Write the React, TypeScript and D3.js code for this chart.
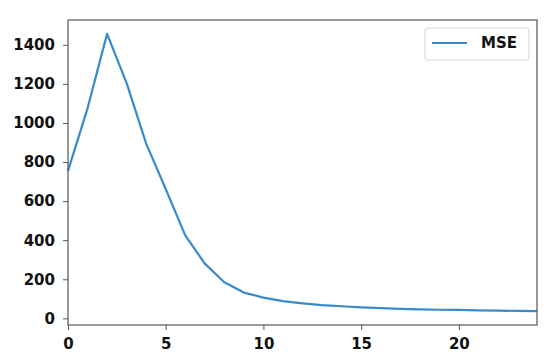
import { useEffect, useRef } from 'react'
import * as d3 from 'd3'

const W = 550
const H = 363
const MARGIN = { top: 20, right: 13, bottom: 38, left: 68 }

// epoch index and MSE values
const EPOCHS = [0, 1, 2, 3, 4, 5, 6, 7, 8, 9, 10, 11, 12, 13, 14, 15, 16, 17, 18, 19, 20, 21, 22, 23, 24]
const MSE = [755, 1075, 1456, 1204, 894, 662, 425, 280, 185, 132, 106, 88, 77, 68, 62, 56, 52, 49, 46, 44, 43, 41, 40, 38, 37]
const X_TICKS = [0, 5, 10, 15, 20]
const Y_TICKS = [0, 200, 400, 600, 800, 1000, 1200, 1400]
const SERIES_LABEL = 'MSE'

const LINE_COLOR = '#3a8ac8'
const AXIS_COLOR = '#555'
const FONT = 'DejaVu Sans, sans-serif'

export default function App() {
  const svgRef = useRef<SVGSVGElement>(null)

  useEffect(() => {
    const svg = d3.select(svgRef.current)
    svg.selectAll('*').remove()

    const innerW = W - MARGIN.left - MARGIN.right
    const innerH = H - MARGIN.top - MARGIN.bottom

    const x = d3.scaleLinear().domain([0, 24]).range([0, innerW])

    // matplotlib-style 5% padding on y
    const lo = d3.min(MSE) as number
    const hi = d3.max(MSE) as number
    const pad = (hi - lo) * 0.05
    const y = d3.scaleLinear().domain([lo - pad, hi + pad]).range([innerH, 0])

    const g = svg.append('g').attr('transform', `translate(${MARGIN.left},${MARGIN.top})`)

    // --- line ---
    const line = d3.line<number>()
      .x((_, i) => x(EPOCHS[i]))
      .y(d => y(d))

    g.append('path')
      .datum(MSE)
      .attr('fill', 'none')
      .attr('stroke', LINE_COLOR)
      .attr('stroke-width', 2.2)
      .attr('stroke-linejoin', 'round')
      .attr('d', line)

    // --- axes ---
    const styleAxis = (sel: d3.Selection<SVGGElement, unknown, null, undefined>) => {
      sel.select('.domain').remove()
      sel.selectAll('line').attr('stroke', AXIS_COLOR).attr('stroke-width', 1)
      sel.selectAll('text')
        .attr('fill', '#111')
        .attr('font-size', 15)
        .attr('font-weight', 'bold')
        .attr('font-family', FONT)
    }

    g.append('g')
      .attr('transform', `translate(0,${innerH})`)
      .call(d3.axisBottom(x).tickValues(X_TICKS).tickSize(5).tickPadding(8).tickFormat(d3.format('d')))
      .call(styleAxis)

    g.append('g')
      .call(d3.axisLeft(y).tickValues(Y_TICKS).tickSize(5).tickPadding(8).tickFormat(d3.format('d')))
      .call(styleAxis)

    // spines
    g.append('rect')
      .attr('x', 0).attr('y', 0)
      .attr('width', innerW).attr('height', innerH)
      .attr('fill', 'none')
      .attr('stroke', AXIS_COLOR)
      .attr('stroke-width', 1.2)

    // --- legend ---
    const lg = g.append('g').attr('transform', `translate(${innerW - 112},${8})`)
    lg.append('rect')
      .attr('width', 104).attr('height', 32)
      .attr('rx', 3)
      .attr('fill', 'white')
      .attr('stroke', '#d6d6d6')
    lg.append('line')
      .attr('x1', 7).attr('x2', 42)
      .attr('y1', 15).attr('y2', 15)
      .attr('stroke', LINE_COLOR)
      .attr('stroke-width', 2.2)
    lg.append('text')
      .attr('x', 56).attr('y', 15)
      .attr('dy', '0.35em')
      .attr('font-size', 15)
      .attr('font-weight', 'bold')
      .attr('font-family', FONT)
      .attr('fill', '#111')
      .text(SERIES_LABEL)
  }, [])

  return (
    <svg
      ref={svgRef}
      width={W}
      height={H}
      style={{ position: 'absolute', left: 0, top: 0, background: 'white' }}
    />
  )
}
